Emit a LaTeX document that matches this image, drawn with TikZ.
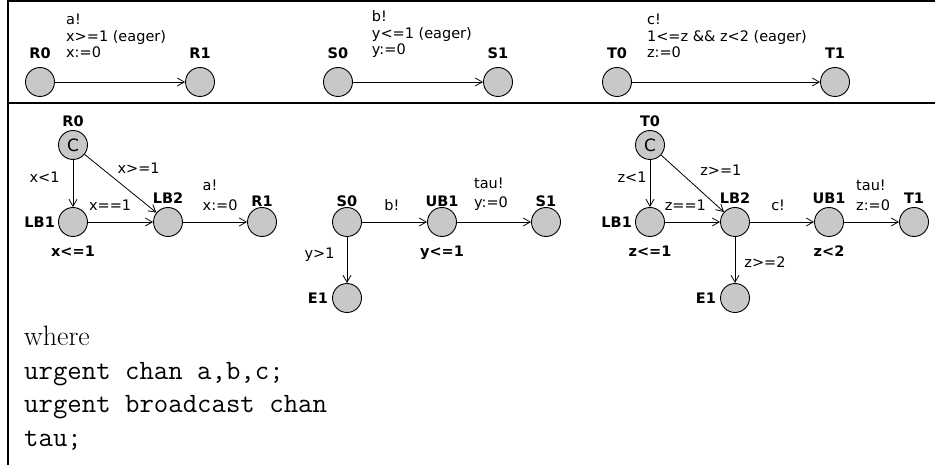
\documentclass[tikz,border=0pt]{standalone}
\usepackage{fontspec}
\newfontfamily\uisans{DejaVu Sans}
\usepackage{xcolor}
\usepackage{tikz}
\usetikzlibrary{arrows.meta,positioning}

\definecolor{locgray}{RGB}{200,200,200}

\begin{document}
\begin{tikzpicture}[
  x=1pt, y=-1pt,
  loc/.style={circle, draw, fill=locgray, line width=0.9pt, minimum size=29pt, inner sep=0pt,
    font=\uisans\fontsize{17}{20}\selectfont},
  lbl/.style={font=\uisans\bfseries\fontsize{14.5}{17}\selectfont, inner sep=1pt},
  inv/.style={font=\uisans\bfseries\fontsize{14.5}{17}\selectfont, inner sep=1pt},
  guard/.style={font=\uisans\fontsize{14.5}{19.5}\selectfont, inner sep=1pt, align=left},
  tguard/.style={guard, font=\uisans\fontsize{14.5}{16.3}\selectfont},
  edge/.style={-{Straight Barb[length=7pt,width=8pt]}, line width=0.8pt},
  label distance=2pt
]
\useasboundingbox (0,0) rectangle (935,465);

% frame
\draw[line width=2pt] (935,1) -- (8,1) -- (8,465);
\draw[line width=2pt] (8,103) -- (935,103);

% eager transitions
\node[loc, label={[lbl,label distance=7pt]above:R0}] (tr0) at (40,82) {};
\node[loc, label={[lbl,label distance=7pt]above:R1}] (tr1) at (200,82) {};
\node[loc, label={[lbl,label distance=7pt]above:S0}] (ts0) at (338,82) {};
\node[loc, label={[lbl,label distance=7pt]above:S1}] (ts1) at (498,82) {};
\node[loc, label={[lbl,label distance=7pt]above:T0}] (tt0) at (617,82) {};
\node[loc, label={[lbl,label distance=7pt]above:T1}] (tt1) at (835,82) {};
\draw[edge] (tr0) -- node[tguard, pos=0.47, above=23pt] (tga) {a!\\x>=1 (eager)\\x:=0} (tr1);
\draw[edge] (ts0) -- node[tguard, pos=0.53, above=23pt] (tgb) {b!\\y<=1 (eager)\\y:=0} (ts1);
\draw[edge] (tt0) -- node[tguard, pos=0.505, above=23pt] (tgc) {c!\\1<=z \&\& z<2 (eager)\\z:=0} (tt1);

% lower bound x>=1
\node[loc, label={[lbl]above:R0}] (r0) at (73,145) {C};
\node[loc, label={[lbl]left:LB1}, label={[inv,label distance=7.5pt]below:x<=1}] (rlb1) at (73,222) {};
\node[loc, label={[lbl]above:LB2}] (rlb2) at (168,222) {};
\node[loc, label={[lbl,label distance=-1pt]above:R1}] (r1) at (262,222) {};
\draw[edge] (r0) -- node[guard, pos=0.36, left=12pt] (g1) {x<1} (rlb1);
\draw[edge] (r0) -- node[guard, pos=0.4, above right=4pt] (g2) {x>=1} (rlb2);
\draw[edge] (rlb1) -- node[guard, pos=0.34, above=10pt] (g3) {x==1} (rlb2);
\draw[edge] (rlb2) -- node[guard, pos=0.58, above=10pt] (g4) {a!\\x:=0} (r1);

% upper bound y<=1
\node[loc, label={[lbl,label distance=-1pt]above:S0}] (s0) at (347,222) {};
\node[loc, label={[lbl,label distance=-1pt]above:UB1}, label={[inv,label distance=7.5pt]below:y<=1}] (sub1) at (442,222) {};
\node[loc, label={[lbl,label distance=-1pt]above:S1}] (s1) at (546,222) {};
\node[loc, label={[lbl,label distance=3pt]left:E1}] (se1) at (347,298) {};
\draw[edge] (s0) -- node[guard, pos=0.46, above=10pt] (g5) {b!} (sub1);
\draw[edge] (sub1) -- node[guard, pos=0.46, above=10pt] (g6) {tau!\\y:=0} (s1);
\draw[edge] (s0) -- node[guard, pos=0.39, left=11pt] (g7) {y>1} (se1);

% interval 1<=z<2
\node[loc, label={[lbl]above:T0}] (t0) at (650,145) {C};
\node[loc, label={[lbl]left:LB1}, label={[inv,label distance=7.5pt]below:z<=1}] (tlb1) at (650,222) {};
\node[loc, label={[lbl]above:LB2}] (tlb2) at (735,222) {};
\node[loc, label={[lbl]above:UB1}, label={[inv,label distance=7.5pt]below:z<2}] (tub1) at (829,222) {};
\node[loc, label={[lbl]above:T1}] (t1) at (914,222) {};
\node[loc, label={[lbl,label distance=3pt]left:E1}] (te1) at (735,298) {};
\draw[edge] (t0) -- node[guard, pos=0.36, left=2pt] (g8) {z<1} (tlb1);
\draw[edge] (t0) -- node[guard, pos=0.5, above right=9pt] (g9) {z>=1} (tlb2);
\draw[edge] (tlb1) -- node[guard, pos=0.37, above=10pt] (g10) {z==1} (tlb2);
\draw[edge] (tlb2) -- node[guard, pos=0.44, above=10pt] (g11) {c!} (tub1);
\draw[edge] (tub1) -- node[guard, pos=0.53, above=10pt] (g12) {tau!\\z:=0} (t1);
\draw[edge] (tlb2) -- node[guard, pos=0.54, right=8pt] (g13) {z>=2} (te1);

% channel declarations
\node[anchor=north west, inner sep=0pt, align=left, font=\fontsize{28}{33.5}\selectfont] (decl) at (24,326)
  {where\\\texttt{urgent chan a,b,c;}\\\texttt{urgent broadcast chan}\\\texttt{tau;}};
\end{tikzpicture}
\end{document}
